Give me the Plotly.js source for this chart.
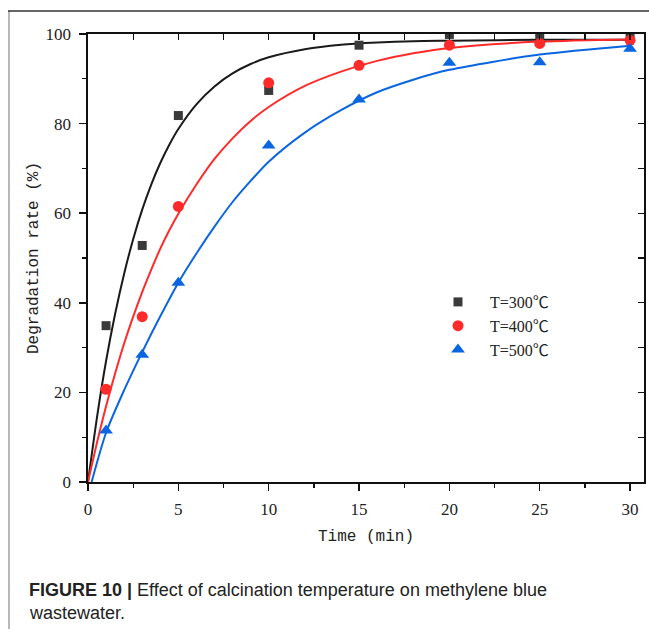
<!DOCTYPE html>
<html>
<head>
<meta charset="utf-8">
<script src="https://cdn.plot.ly/plotly-3.0.1.min.js"></script>
<style>html,body{margin:0;padding:0;background:#fff;}#chart{width:649px;height:629px;}</style>
</head>
<body>
<div id="chart"></div>
<script>
// Measured data points
const timeMeas = [1, 3, 5, 10, 15, 20, 25, 30];
const deg300 = [34.9, 52.8, 81.8, 87.4, 97.5, 99.9, 99.9, 99.4];
const deg400 = [20.7, 36.9, 61.5, 89.1, 93.0, 97.5, 97.9, 98.6];
const deg500 = [11.5, 28.4, 44.5, 75.1, 85.4, 93.6, 93.7, 96.7];

// Fitted curves
const fitT300 = [0, 0.5, 1, 1.5, 2, 2.5, 3, 3.5, 4, 4.5, 5, 6, 7, 8, 9, 10, 12, 14, 16, 18, 20, 25, 30];
const fit300 = [0, 14.5, 27, 37.5, 46.5, 54.2, 60.8, 66.4, 71.2, 75.3, 78.8, 84.3, 88.3, 91.2, 93.3, 94.8, 96.6, 97.6, 98.1, 98.4, 98.5, 98.7, 98.7];
const fitT400 = [0, 0.5, 1, 1.5, 2, 2.5, 3, 3.5, 4, 4.5, 5, 6, 7, 8, 9, 10, 12, 14, 16, 18, 20, 25, 30];
const fit400 = [0, 8.8, 16.9, 24.2, 30.9, 36.9, 42.4, 47.4, 52.1, 56.2, 59.9, 66.4, 72.1, 76.7, 80.6, 83.7, 88.4, 91.6, 94, 95.7, 96.9, 98.3, 98.8];
const fitT500 = [0.2, 1, 2, 3, 4, 5, 6, 7, 8, 9, 10, 12, 14, 16, 18, 20, 25, 30];
const fit500 = [0, 11, 20.5, 29, 37, 44.5, 51, 57, 62.5, 67.2, 71.5, 78, 83, 87, 89.8, 92, 95.4, 97.4];

const seriesNames = ['T=300\u2103', 'T=400\u2103', 'T=500\u2103'];
const colBlack = '#3a3a3a', colRed = '#ff2a2a', colBlue = '#0a66e0';

const tickFont = {family: 'Liberation Serif, Times New Roman, serif', size: 17, color: '#222'};
const titleFont = {family: 'Liberation Mono, Courier New, monospace', size: 16, color: '#222'};

const traces = [
  {x: fitT300, y: fit300, mode: 'lines', line: {color: '#1a1a1a', width: 2, shape: 'spline', smoothing: 0.8}, showlegend: false, hoverinfo: 'skip'},
  {x: fitT400, y: fit400, mode: 'lines', line: {color: colRed, width: 2, shape: 'spline', smoothing: 0.8}, showlegend: false, hoverinfo: 'skip'},
  {x: fitT500, y: fit500, mode: 'lines', line: {color: colBlue, width: 2, shape: 'spline', smoothing: 0.8}, showlegend: false, hoverinfo: 'skip'},
  {x: timeMeas, y: deg300, mode: 'markers', name: seriesNames[0], marker: {symbol: 'square', size: 9, color: colBlack}},
  {x: timeMeas, y: deg400, mode: 'markers', name: seriesNames[1], marker: {symbol: 'circle', size: 11, color: colRed}},
  {x: timeMeas, y: deg500, mode: 'markers', name: seriesNames[2], marker: {symbol: 'triangle-up', size: 12, color: colBlue}}
];

const X0 = 88, X1 = 644, Y0 = 34, Y1 = 482;
const pw = X1 - X0, ph = Y1 - Y0;
const px = v => (v - X0) / pw;
const py = v => (Y1 - v) / ph;

const layout = {
  width: 649, height: 629,
  margin: {l: X0, r: 649 - X1, t: Y0, b: 629 - Y1},
  paper_bgcolor: '#fff', plot_bgcolor: '#fff',
  showlegend: true,
  legend: {x: px(426), y: py(285), xanchor: 'left', yanchor: 'top', bgcolor: 'rgba(0,0,0,0)',
           font: {family: 'Liberation Serif, Noto Sans CJK SC, serif', size: 16, color: '#222'},
           itemwidth: 54, tracegroupgap: 0},
  xaxis: {range: [0, 30.77], showgrid: false, zeroline: false, showline: true, linecolor: '#111', linewidth: 1.6,
          ticks: 'outside', ticklen: 7, tickwidth: 1.5, tickcolor: '#111', dtick: 5, tick0: 0,
          minor: {ticks: 'outside', ticklen: 4, tickwidth: 1.3, tickcolor: '#111', dtick: 2.5},
          tickfont: tickFont, ticklabelstandoff: 4,
          title: {text: 'Time (min)', font: titleFont, standoff: 12}, fixedrange: true},
  yaxis: {range: [0, 100], showgrid: false, zeroline: false, showline: true, linecolor: '#111', linewidth: 1.6,
          ticks: 'outside', ticklen: 7, tickwidth: 1.5, tickcolor: '#111', dtick: 20, tick0: 0,
          minor: {ticks: 'outside', ticklen: 4, tickwidth: 1.3, tickcolor: '#111', dtick: 10},
          tickfont: tickFont, ticklabelstandoff: 5,
          title: {text: 'Degradation rate (%)', font: titleFont, standoff: 3}, fixedrange: true},
  xaxis2: {overlaying: 'x', side: 'top', matches: 'x', range: [0, 30.77], showgrid: false, zeroline: false,
           showline: true, linecolor: '#111', linewidth: 1.6, ticks: 'inside', ticklen: 6, tickwidth: 1.3,
           tickcolor: '#111', dtick: 2.5, tick0: 0, showticklabels: false, fixedrange: true},
  yaxis2: {overlaying: 'y', side: 'right', matches: 'y', range: [0, 100], showgrid: false, zeroline: false,
           showline: true, linecolor: '#111', linewidth: 1.6, ticks: 'inside', ticklen: 6, tickwidth: 1.3,
           tickcolor: '#111', dtick: 10, tick0: 0, showticklabels: false, fixedrange: true},
  shapes: [
    {type: 'line', xref: 'paper', yref: 'paper', x0: px(9), x1: px(9), y0: py(11), y1: py(629),
     line: {color: '#b8b8b8', width: 2}},
    {type: 'line', xref: 'paper', yref: 'paper', x0: px(8), x1: px(649), y0: py(11), y1: py(11),
     line: {color: '#333', width: 1.5}}
  ],
  annotations: [
    {xref: 'paper', yref: 'paper', x: px(27), y: py(590), xanchor: 'left', yanchor: 'middle', showarrow: false,
     text: '<b>FIGURE 10 |</b> Effect of calcination temperature on methylene blue',
     font: {family: 'Liberation Sans, Arial, sans-serif', size: 18, color: '#222'}},
    {xref: 'paper', yref: 'paper', x: px(27), y: py(613), xanchor: 'left', yanchor: 'middle', showarrow: false,
     text: 'wastewater.',
     font: {family: 'Liberation Sans, Arial, sans-serif', size: 18, color: '#222'}}
  ]
};

// invisible point so the mirror axes are drawn
traces.push({x: [0], y: [0], xaxis: 'x2', yaxis: 'y2', mode: 'markers', marker: {opacity: 0}, showlegend: false, hoverinfo: 'skip'});

Plotly.newPlot('chart', traces, layout, {displayModeBar: false, staticPlot: true});
</script>
</body>
</html>
